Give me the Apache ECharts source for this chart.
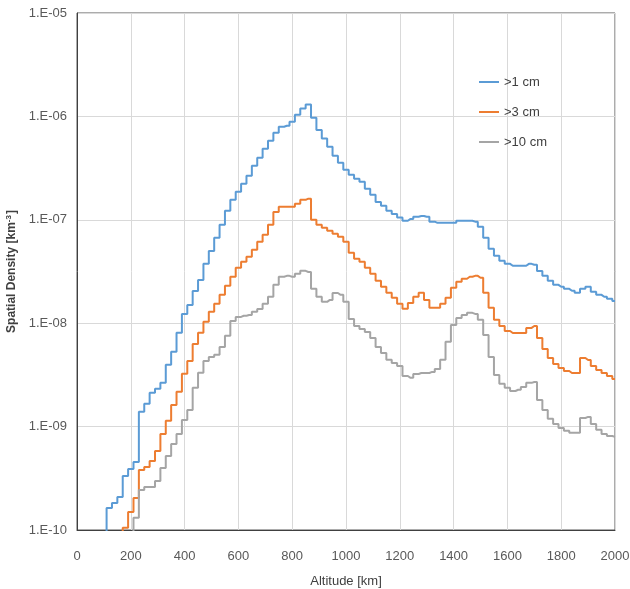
<!DOCTYPE html>
<html>
<head>
<meta charset="utf-8">
<script src="https://cdn.jsdelivr.net/npm/echarts@6/dist/echarts.min.js"></script>
<style>
html,body{margin:0;padding:0;background:#fff;}
#chart{width:630px;height:589px;}
</style>
</head>
<body>
<div id="chart"></div>
<script>
const altitude = [100,120,140,160,180,200,220,240,260,280,300,320,340,360,380,400,420,440,460,480,500,520,540,560,580,600,620,640,660,680,700,720,740,760,780,800,820,840,860,880,900,920,940,960,980,1000,1020,1040,1060,1080,1100,1120,1140,1160,1180,1200,1220,1240,1260,1280,1300,1320,1340,1360,1380,1400,1420,1440,1460,1480,1500,1520,1540,1560,1580,1600,1620,1640,1660,1680,1700,1720,1740,1760,1780,1800,1820,1840,1860,1880,1900,1920,1940,1960,1980,2000];

const seriesNames = ['>1 cm', '>3 cm', '>10 cm'];

const gt1cm = [9e-11,1.63e-10,1.82e-10,2.08e-10,3.33e-10,3.89e-10,4.55e-10,1.39e-9,1.66e-9,2.12e-9,2.32e-9,2.65e-9,3.96e-9,5.29e-9,8.07e-9,1.23e-8,1.50e-8,2.05e-8,2.62e-8,3.75e-8,5.0e-8,6.7e-8,8.95e-8,1.22e-7,1.56e-7,1.87e-7,2.23e-7,2.67e-7,3.33e-7,3.98e-7,4.87e-7,5.82e-7,6.95e-7,7.94e-7,8.13e-7,8.87e-7,1.04e-6,1.19e-6,1.30e-6,9.7e-7,7.4e-7,6.1e-7,5.09e-7,4.17e-7,3.56e-7,3.05e-7,2.73e-7,2.49e-7,2.33e-7,2.0e-7,1.75e-7,1.49e-7,1.37e-7,1.22e-7,1.14e-7,1.05e-7,9.8e-8,1.02e-7,1.07e-7,1.09e-7,1.07e-7,9.6e-8,9.35e-8,9.35e-8,9.35e-8,9.35e-8,9.8e-8,9.8e-8,9.8e-8,9.6e-8,8.55e-8,6.7e-8,5.24e-8,4.49e-8,4.01e-8,3.75e-8,3.59e-8,3.59e-8,3.59e-8,3.75e-8,3.67e-8,3.2e-8,2.87e-8,2.57e-8,2.35e-8,2.25e-8,2.15e-8,2.06e-8,1.97e-8,2.15e-8,2.25e-8,2.01e-8,1.88e-8,1.8e-8,1.72e-8,1.64e-8];

const gt3cm = [8e-11,8e-11,8e-11,8e-11,1.05e-10,1.49e-10,2.04e-10,3.81e-10,4.07e-10,4.66e-10,5.82e-10,8.5e-10,1.14e-9,1.62e-9,2.17e-9,3.24e-9,4.32e-9,6.31e-9,8.07e-9,1.03e-8,1.29e-8,1.54e-8,1.88e-8,2.3e-8,2.81e-8,3.43e-8,3.92e-8,4.39e-8,5.13e-8,6.12e-8,7.16e-8,8.95e-8,1.19e-7,1.34e-7,1.34e-7,1.34e-7,1.43e-7,1.56e-7,1.6e-7,1.0e-7,8.95e-8,8.37e-8,7.83e-8,7.32e-8,6.85e-8,6.12e-8,4.8e-8,4.2e-8,3.92e-8,3.43e-8,3.0e-8,2.57e-8,2.25e-8,1.97e-8,1.76e-8,1.54e-8,1.38e-8,1.57e-8,1.8e-8,1.97e-8,1.68e-8,1.41e-8,1.41e-8,1.54e-8,1.76e-8,2.2e-8,2.51e-8,2.69e-8,2.81e-8,2.87e-8,2.75e-8,1.97e-8,1.41e-8,1.08e-8,9.4e-9,8.4e-9,8.05e-9,8.05e-9,8.05e-9,9.0e-9,9.4e-9,7.2e-9,5.64e-9,4.61e-9,4.04e-9,3.69e-9,3.45e-9,3.3e-9,3.3e-9,4.6e-9,4.4e-9,3.86e-9,3.53e-9,3.3e-9,3.09e-9,2.89e-9];

const gt10cm = [8e-11,8e-11,8e-11,8e-11,8e-11,8e-11,1.31e-10,2.44e-10,2.61e-10,2.61e-10,2.98e-10,3.98e-10,5.2e-10,6.8e-10,8.5e-10,1.16e-9,1.45e-9,2.37e-9,3.31e-9,4.32e-9,4.72e-9,4.94e-9,5.9e-9,7.55e-9,1.05e-8,1.15e-8,1.18e-8,1.2e-8,1.29e-8,1.37e-8,1.54e-8,1.8e-8,2.35e-8,2.81e-8,2.87e-8,2.81e-8,3.0e-8,3.21e-8,3.13e-8,2.15e-8,1.8e-8,1.61e-8,1.68e-8,1.96e-8,1.88e-8,1.61e-8,1.1e-8,9.4e-9,8.8e-9,8.24e-9,7.2e-9,5.9e-9,5.16e-9,4.42e-9,4.13e-9,3.86e-9,3.09e-9,2.96e-9,3.23e-9,3.3e-9,3.3e-9,3.38e-9,3.61e-9,4.42e-9,6.6e-9,9.6e-9,1.12e-8,1.2e-8,1.26e-8,1.23e-8,1.08e-8,7.7e-9,4.72e-9,3.16e-9,2.59e-9,2.37e-9,2.21e-9,2.27e-9,2.42e-9,2.65e-9,2.7e-9,1.81e-9,1.45e-9,1.19e-9,1.06e-9,9.7e-10,9.1e-10,8.7e-10,8.7e-10,1.21e-9,1.24e-9,1.06e-9,9.3e-10,8.5e-10,8.1e-10,7.95e-10];

const yTickLabels = ['1.E-10','1.E-09','1.E-08','1.E-07','1.E-06','1.E-05'];
const xTickLabels = ['0','200','400','600','800','1000','1200','1400','1600','1800','2000'];

const colors = ['#5B9BD5', '#ED7D31', '#A5A5A5'];
const FONT = "'Liberation Sans Narrow', 'Liberation Sans', Arial, sans-serif";

function pairs(vals) { return altitude.map((a, i) => [a, vals[i]]); }

const chart = echarts.init(document.getElementById('chart'), null, {renderer: 'canvas'});
chart.setOption({
  backgroundColor: '#ffffff',
  animation: false,
  color: colors,
  grid: {left: 77, top: 13, right: 15, bottom: 59, show: true, borderColor: '#595959', borderWidth: 1,
         containLabel: false, outerBoundsMode: 'none'},
  legend: {
    orient: 'vertical', left: 474, top: 70, itemGap: 16, itemWidth: 20, itemHeight: 2,
    icon: 'rect',
    textStyle: {fontFamily: FONT, fontSize: 13, color: '#404040', lineHeight: 14},
    data: seriesNames
  },
  xAxis: {
    type: 'value', min: 0, max: 2000, interval: 200,
    name: 'Altitude [km]', nameLocation: 'middle', nameGap: 45,
    nameTextStyle: {fontFamily: FONT, fontSize: 13, color: '#404040'},
    axisLine: {show: true, lineStyle: {color: '#404040', width: 1}},
    axisTick: {show: false},
    axisLabel: {margin: 20, fontFamily: FONT, fontSize: 13, color: '#595959',
      formatter: v => xTickLabels[Math.round(v / 200)]},
    splitLine: {show: true, lineStyle: {color: '#d9d9d9', width: 1}}
  },
  yAxis: {
    type: 'log', logBase: 10, min: 1e-10, max: 1e-5,
    name: 'Spatial Density [km{sup|-3}]', nameLocation: 'middle', nameGap: 57, nameRotate: 90,
    nameTextStyle: {fontFamily: FONT, fontSize: 12, fontWeight: 'bold', color: '#404040',
      rich: {sup: {fontFamily: FONT, fontSize: 8, fontWeight: 'bold', color: '#404040', verticalAlign: 'top', padding: [0, 1, 6, 0]}}},
    axisLine: {show: true, lineStyle: {color: '#404040', width: 1}},
    axisTick: {show: false},
    axisLabel: {margin: 10, fontFamily: FONT, fontSize: 13, color: '#595959',
      formatter: v => yTickLabels[Math.round(Math.log10(v)) + 10]},
    splitLine: {show: true, lineStyle: {color: '#d9d9d9', width: 1}}
  },
  series: [
    {name: seriesNames[0], type: 'line', step: 'middle', symbol: 'none', clip: true,
     lineStyle: {width: 2, color: colors[0]}, itemStyle: {color: colors[0]}, data: pairs(gt1cm)},
    {name: seriesNames[1], type: 'line', step: 'middle', symbol: 'none', clip: true,
     lineStyle: {width: 2, color: colors[1]}, itemStyle: {color: colors[1]}, data: pairs(gt3cm)},
    {name: seriesNames[2], type: 'line', step: 'middle', symbol: 'none', clip: true,
     lineStyle: {width: 2, color: colors[2]}, itemStyle: {color: colors[2]}, data: pairs(gt10cm)}
  ]
});
</script>
</body>
</html>
